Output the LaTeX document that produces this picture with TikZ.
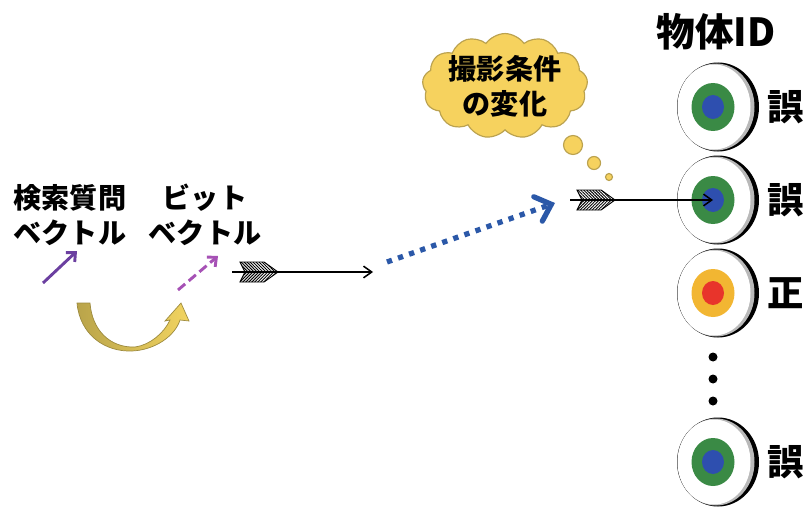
\documentclass[tikz,border=0pt]{standalone}
\usepackage{fontspec}
\newfontfamily\jp{Noto Sans CJK JP}
\usetikzlibrary{arrows.meta,shapes.symbols,patterns.meta}

\definecolor{ringgreen}{HTML}{3A8A45}
\definecolor{coreblue}{HTML}{2E4FAF}
\definecolor{ringgold}{HTML}{F2B632}
\definecolor{corered}{HTML}{E8342B}
\definecolor{cloudfill}{HTML}{F6D25E}
\definecolor{cloudline}{HTML}{BBA24F}
\definecolor{qpurple}{HTML}{6B3FA0}
\definecolor{bpurple}{HTML}{A651B5}
\definecolor{shotblue}{HTML}{2B58A8}
\definecolor{goldleft}{HTML}{B9A44A}
\definecolor{goldright}{HTML}{F2D460}

\tikzset{
  vectext/.style={font=\jp\bfseries\fontsize{24}{30}\selectfont, align=center, inner sep=0pt},
  verdict/.style={font=\jp\bfseries\fontsize{31}{31}\selectfont, inner sep=0pt},
  shaft/.style={line width=1.3pt, -{Straight Barb[length=7pt,width=10pt]}},
  fletching/.pic={
    \draw[line width=0.8pt, pattern={Lines[angle=135,distance=1.8pt,line width=0.8pt]}]
      (-19,-10) -- (5,-10) -- (19,0) -- (-14,0) -- cycle;
    \draw[line width=0.8pt, pattern={Lines[angle=45,distance=1.8pt,line width=0.8pt]}]
      (-19,10) -- (5,10) -- (19,0) -- (-14,0) -- cycle;
  }
}

% target: name, y, ring colour, centre colour
\newcommand{\drawtarget}[4]{%
  \fill[black] (718,#2) ellipse [x radius=41, y radius=44.5];
  \fill[gray!55] (716,#2) ellipse [x radius=38.5, y radius=43.5];
  \fill[white] (714,#2) ellipse [x radius=36.5, y radius=42.5];
  \fill[#3] (713,#2) ellipse [x radius=21.5, y radius=24];
  \fill[#4] (713,#2) ellipse [x radius=11, y radius=12];
  \coordinate (#1) at (713,#2);
}

\begin{document}
\begin{tikzpicture}[x=0.03cm, y=-0.03cm]
    \useasboundingbox (0,0) rectangle (810,507);

    % Vectors
    \node[vectext] (query) at (70,215) {検索質問\\ベクトル};
    \node[vectext] (bits) at (205,215) {ビット\\ベクトル};

    \coordinate (qs) at (43,283);
    \coordinate (qe) at (77,251);
    \coordinate (bs) at (178,290);
    \coordinate (be) at (218,256);
    \draw[qpurple, line width=2.5pt, -{Straight Barb[length=6pt,width=11pt]}] (qs) -- (qe);
    \draw[bpurple, line width=2.5pt, dash pattern=on 8pt off 4pt, -{Straight Barb[length=6pt,width=11pt]}] (bs) -- (be);

    % Hashing arrow
    \shade[left color=goldleft, right color=goldright, draw=goldleft!85!black, line width=0.6pt]
      (77,303) .. controls (80,335) and (105,352) .. (132,351)
      .. controls (155,350) and (175,336) .. (180,320)
      -- (189,321) -- (181,303) -- (165,321) -- (170,320)
      .. controls (164,333) and (150,345) .. (135,347)
      .. controls (110,348) and (92,330) .. (90,303) -- cycle;

    % Shots
    \coordinate (s1) at (232,272);
    \coordinate (e1) at (373,272);
    \draw[shaft] (s1) -- (e1);
    \pic at (259,272) {fletching};

    \coordinate (ds) at (387,262);
    \coordinate (de) at (555,203);
    \draw[shotblue, line width=4.5pt, dash pattern=on 4.5pt off 5.5pt,
      -{Straight Barb[length=12pt,width=22pt,line cap=round]}] (ds) -- (de);

    % Thought cloud
    \node[cloud, cloud puffs=13, cloud puff arc=110, cloud ignores aspect, minimum width=4.5cm, minimum height=2.95cm,
      fill=cloudfill, draw=cloudline, line width=1pt, vectext] (cond) at (505,86) {撮影条件\\の変化};
    \fill[cloudfill, draw=cloudline, line width=1pt] (573,145) circle [radius=9.5];
    \fill[cloudfill, draw=cloudline, line width=1pt] (594,163) circle [radius=6.5];
    \fill[cloudfill, draw=cloudline, line width=1pt] (609,177) circle [radius=3.5];

    % Object IDs
    \node[verdict, font=\jp\bfseries\fontsize{33}{33}\selectfont] (ids) at (716,32) {物体ID};
    \drawtarget{t1}{107}{ringgreen}{coreblue}
    \drawtarget{t2}{200}{ringgreen}{coreblue}
    \drawtarget{t3}{293}{ringgold}{corered}
    \drawtarget{t4}{462}{ringgreen}{coreblue}
    \foreach \y in {357,379,401}
      \fill (713,\y) circle [radius=4.5];

    \node[verdict] (v1) at (786,107) {誤};
    \node[verdict] (v2) at (786,200) {誤};
    \node[verdict] (v3) at (786,293) {正};
    \node[verdict] (v4) at (786,462) {誤};

    \coordinate (s2) at (570,200);
    \draw[shaft] (s2) -- (t2);
    \pic at (596,200) {fletching};
\end{tikzpicture}
\end{document}
